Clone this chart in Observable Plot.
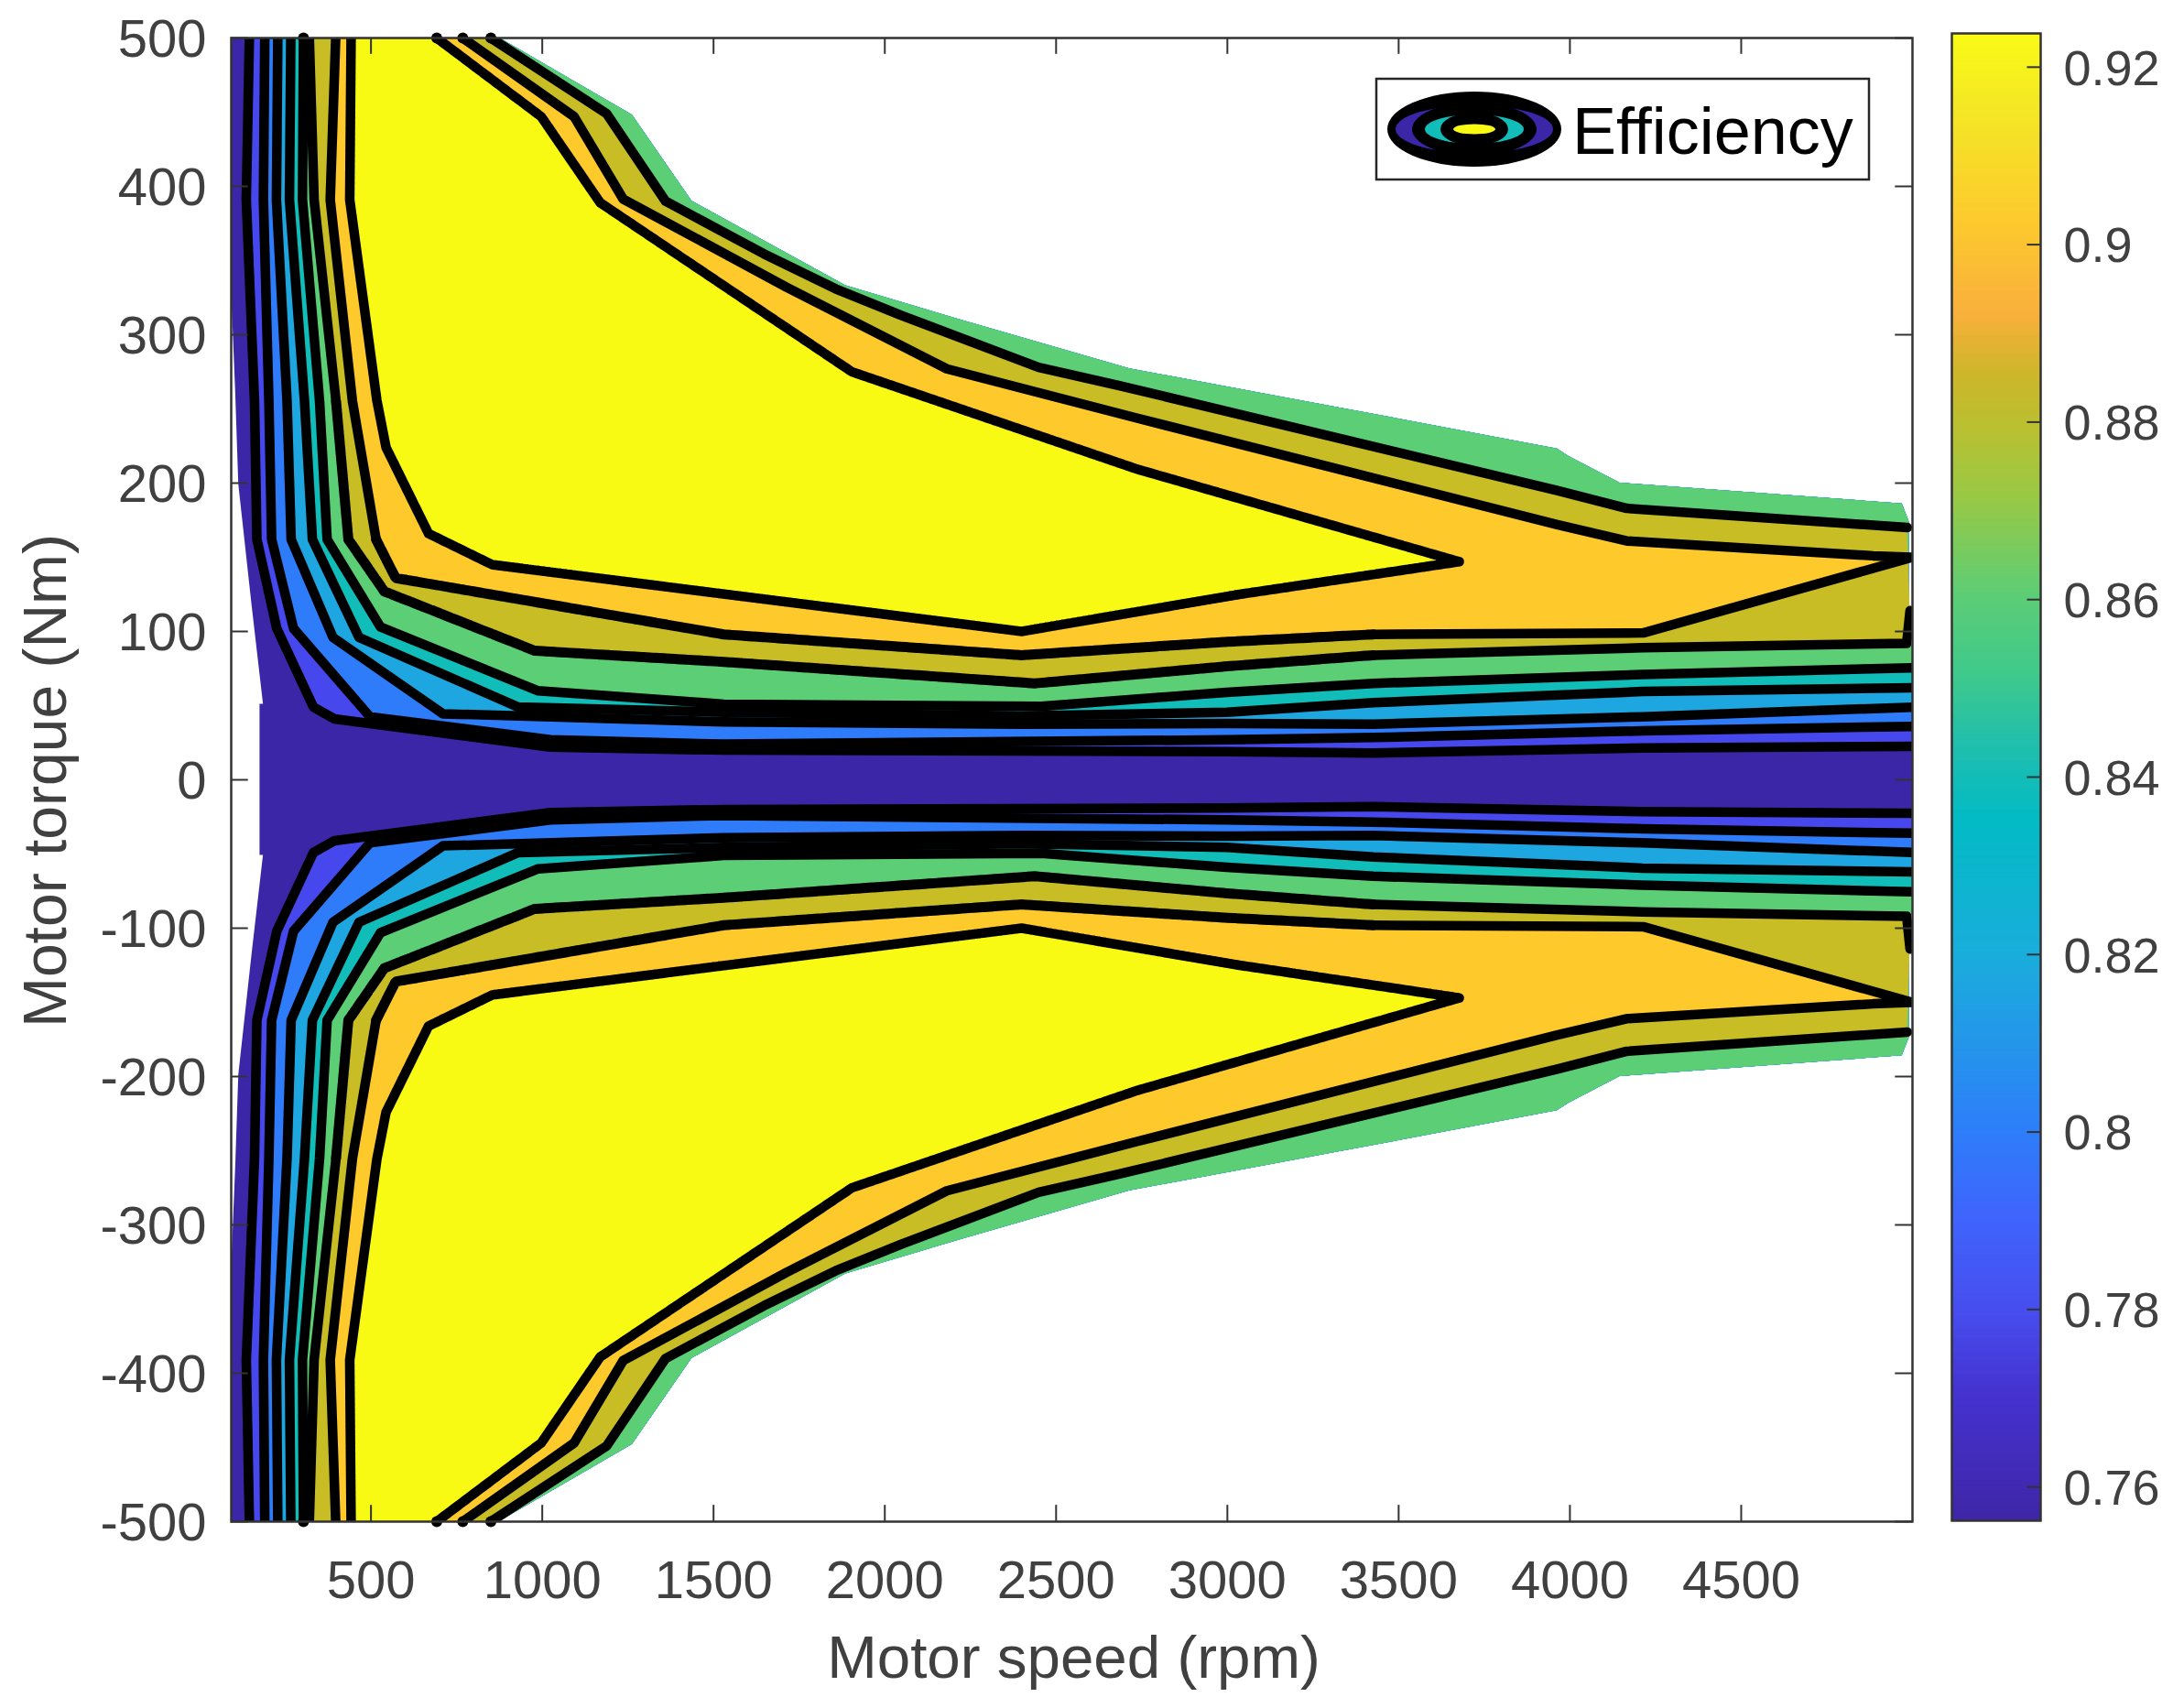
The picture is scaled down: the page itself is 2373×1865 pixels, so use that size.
<!DOCTYPE html>
<html>
<head>
<meta charset="utf-8">
<script src="https://cdn.jsdelivr.net/npm/d3@7"></script>
<script src="https://cdn.jsdelivr.net/npm/@observablehq/plot@0.6"></script>
<style>
html,body{margin:0;padding:0;background:#fff;width:2373px;height:1865px;overflow:hidden}
#wrap{position:relative;width:2373px;height:1865px}
#wrap>*{position:absolute;left:0;top:0}
</style>
</head>
<body>
<div id="wrap"></div>
<script>
// Domain envelope (upper half, torque mirrored for the lower half)
const envSpeed  = [5000,4990,4990,4970,4146,3996,3963,3321,2715,2220,1886,1437,1263,875];
const envTorque = [91,91,174,186,200,218,223,251,277,310,333,390,448,500];
const leftSpeed  = [92,92,105,114,153,186,176,176];
const leftTorque = [500,335,261,199,117,51,51,0];

// Contour lines, upper half
const s78=[145,136,160,167,225,332,394,1024,1530,2998,3426,4211,5000];
const t78=[500,391,255,162,102,49,41,22,20,19,18,21.5,22.5];
const s80=[190,186,202,210,274,497,1024,1530,2998,3426,4211,5000];
const t80=[500,391,255,162,102,42.5,27,24,27,28.5,33,36];
const s82=[228,224,255,267,389,710,1530,2399,2998,3426,4211,5000];
const t82=[500,391,255,162,96,44.5,39,37.5,38,37.5,42.5,49];
const s84=[266,262,306,329,465,930,1530,2399,2998,3426,4211,5000];
const t84=[500,391,255,162,96,49,45.5,43,45.5,52,59.5,62];
const s86=[303,300,350,372,528,988,1530,2456,2998,3426,4211,5000];
const t86=[500,391,255,162,103,60,51,49.5,59,65,71,75.5];
// Closed contours: left side, lower edge, then back along the upper edge
const s88=[320,334,398,434,539,978,1530,2438,2999,3426,4211,4983,4993,4985,4166,3963,2679,2449,2048,1856,1647,1360,1188,850];
const t88=[500,391,255,162,127,87,79.5,65,76.5,84,89,92,114,170,183,195,266,278,313,331,354.5,390,449,500];
const s90=[397,381,446,515,572,1530,2399,2999,3426,4214,5000,4885,4166,3963,2733,2181,1713,1236,1093,768];
const t90=[500,391,255,162,136,98,84,93,98,99,150,151,161,172,244,277,332,391.5,447,500];
const s92=[442,438,517,544,668,854,1503,2399,3035,3677,2735,1904,1169,997,692];
const t92=[500,391,256,224,166,145,126,100,125,147,209.5,275,389,447,500];

const levelFills=["#4647ed","#2f7cfb","#1ea6e0","#10bdb9","#5ccf76","#c9bd25","#fec92b","#f9fa14"];
const baseFill="#3c26a8";

const xTicks=[500,1000,1500,2000,2500,3000,3500,4000,4500];
const yTicks=[-500,-400,-300,-200,-100,0,100,200,300,400,500];
const cbTicks=[0.76,0.78,0.8,0.82,0.84,0.86,0.88,0.9,0.92];
const cbValues=[0.7562,0.77,0.78,0.79,0.80,0.81,0.82,0.835,0.844,0.851,0.86,0.871,0.8785,0.885,0.892,0.902,0.9147,0.9238];
const cbColors=["#3f26a8","#4532cf","#474ef0","#3f64fc","#2d7ef9","#2497ea","#19aedb","#03bbc5","#22bfab","#3ec98c","#5ccd76","#97c946","#b8c132","#cdb629","#f9b03c","#fdc92e","#f4e725","#f9fb15"];
const endBumps=[303,692,768,850];

const toPts=(s,t)=>s.map((x,i)=>({x,y:t[i]}));
const env=toPts(envSpeed,envTorque);
const upperDomain=[...env,...toPts(leftSpeed,leftTorque)];
const domainPts=[{x:5000,y:0},...upperDomain,...upperDomain.slice().reverse().map(d=>({x:d.x,y:-d.y}))];

function poly(points,fill,sign=1){
  return Plot.area(points,{x1:d=>d.x,y1:d=>sign*d.y,x2:()=>points[0].x,y2:()=>sign*points[0].y,fill,clip:true});
}
function stroke(points,sign,opts={}){
  return Plot.line(points,{x:d=>d.x,y:d=>sign*d.y,stroke:"black",strokeWidth:10.5,strokeLinejoin:"round",strokeMiterlimit:4,clip:true,...opts});
}
const open=[[s78,t78],[s80,t80],[s82,t82],[s84,t84],[s86,t86]].map(([s,t])=>toPts(s,t));
const closed=[[s88,t88],[s90,t90],[s92,t92]].map(([s,t])=>toPts(s,t));

const fills=[];
open.forEach((pts,i)=>{
  const ring=[...pts,...env];
  fills.push(poly(ring,levelFills[i],1),poly(ring,levelFills[i],-1));
});
closed.forEach((pts,i)=>{
  fills.push(poly(pts,levelFills[i+5],1),poly(pts,levelFills[i+5],-1));
});
const lines=[];
for(const sign of [1,-1]){
  open.forEach(pts=>lines.push(stroke(pts,sign)));
  const [p88,p90,p92]=closed;
  lines.push(stroke(p88.slice(0,3),sign));
  lines.push(stroke(p88.slice(2,10),sign,{strokeDasharray:"10 2",strokeWidth:11}));
  lines.push(stroke(p88.slice(9,13),sign));
  lines.push(stroke(p88.slice(13),sign));
  lines.push(stroke(p90.slice(0,4),sign));
  lines.push(stroke(p90.slice(3,9),sign,{strokeDasharray:"10 2",strokeWidth:11}));
  lines.push(stroke(p90.slice(8),sign));
  lines.push(stroke(p92,sign,{strokeDasharray:"5 1",strokeWidth:10.5}));
}
const axisColor="#404040";
const main=Plot.plot({
  width:2373,height:1865,
  marginLeft:252,marginRight:285,marginTop:41,marginBottom:204,
  x:{domain:[92,5000]},
  y:{domain:[-500,500]},
  style:{fontFamily:"'Liberation Sans',Arial,sans-serif",fontSize:"58px",color:axisColor,background:"white"},
  marks:[
    poly(domainPts,baseFill),
    ...fills,
    ...lines,
    Plot.dot(endBumps.flatMap(x=>[{x,y:500},{x,y:-500}]),{x:"x",y:"y",r:6,fill:"black"}),
    Plot.ruleX(xTicks,{x:d=>d,y1:-500,y2:-489,stroke:"#333",strokeWidth:2}),
    Plot.ruleX(xTicks,{x:d=>d,y1:489,y2:500,stroke:"#333",strokeWidth:2}),
    Plot.ruleY(yTicks,{y:d=>d,x1:92,x2:142,stroke:"#333",strokeWidth:2}),
    Plot.ruleY(yTicks,{y:d=>d,x1:4950,x2:5000,stroke:"#333",strokeWidth:2}),
    Plot.frame({stroke:"#333",strokeWidth:2.5}),
    Plot.axisX(xTicks,{label:null,tickSize:0,tickPadding:42,tickFormat:d=>String(d)}),
    Plot.axisY(yTicks,{label:null,tickSize:0,tickPadding:27,dy:1.5,tickFormat:d=>String(d)}),
    Plot.text(["Motor speed (rpm)"],{frameAnchor:"bottom",lineAnchor:"middle",dy:150,dx:2,fontSize:65.5,fill:axisColor}),
    Plot.text(["Motor torque (Nm)"],{frameAnchor:"left",textAnchor:"middle",rotate:-90,dx:-202,dy:1,fontSize:66,fill:axisColor})
  ]
});
const cbBins=d3.range(0.7562,0.9238,0.0005);
const bar=Plot.plot({
  width:2373,height:1865,
  marginLeft:2131,marginRight:145,marginTop:36,marginBottom:205,
  x:{domain:[0,1],axis:null},
  y:{domain:[0.7562,0.9238]},
  color:{type:"linear",domain:cbValues,range:cbColors},
  style:{fontFamily:"'Liberation Sans',Arial,sans-serif",fontSize:"54px",color:axisColor,background:"transparent"},
  marks:[
    Plot.rect(cbBins,{x1:0,x2:1,y1:d=>d,y2:d=>Math.min(d+0.0006,0.9238),fill:d=>d}),
    Plot.ruleY(cbTicks,{y:d=>d,x1:0.85,x2:1,stroke:"#333",strokeWidth:2}),
    Plot.frame({stroke:"#333",strokeWidth:2.5}),
    Plot.axisY(cbTicks,{anchor:"right",label:null,tickSize:0,tickPadding:25,dy:2,tickFormat:d=>String(d)})
  ]
});
const wrap=document.getElementById("wrap");
wrap.append(main,bar);
const legend=document.createElement("div");
legend.innerHTML=`<svg width="2373" height="1865" xmlns="http://www.w3.org/2000/svg" style="position:absolute;left:0;top:0;background:transparent">
<rect x="1503" y="86" width="538" height="110" fill="white" stroke="#262626" stroke-width="2.5"/>
<g transform="translate(1610,141)">
<ellipse rx="95" ry="41" fill="black"/><ellipse rx="86" ry="26" fill="#3c26a8"/><ellipse rx="68" ry="29" fill="black"/>
<ellipse rx="54" ry="16" fill="#10bdb9"/><ellipse rx="37" ry="18" fill="black"/><ellipse rx="23" ry="5.5" fill="#f9fa14"/>
</g>
<text x="1717" y="168" font-family="'Liberation Sans',Arial,sans-serif" font-size="72" fill="black">Efficiency</text>
</svg>`;
wrap.append(legend);
</script>
</body>
</html>
